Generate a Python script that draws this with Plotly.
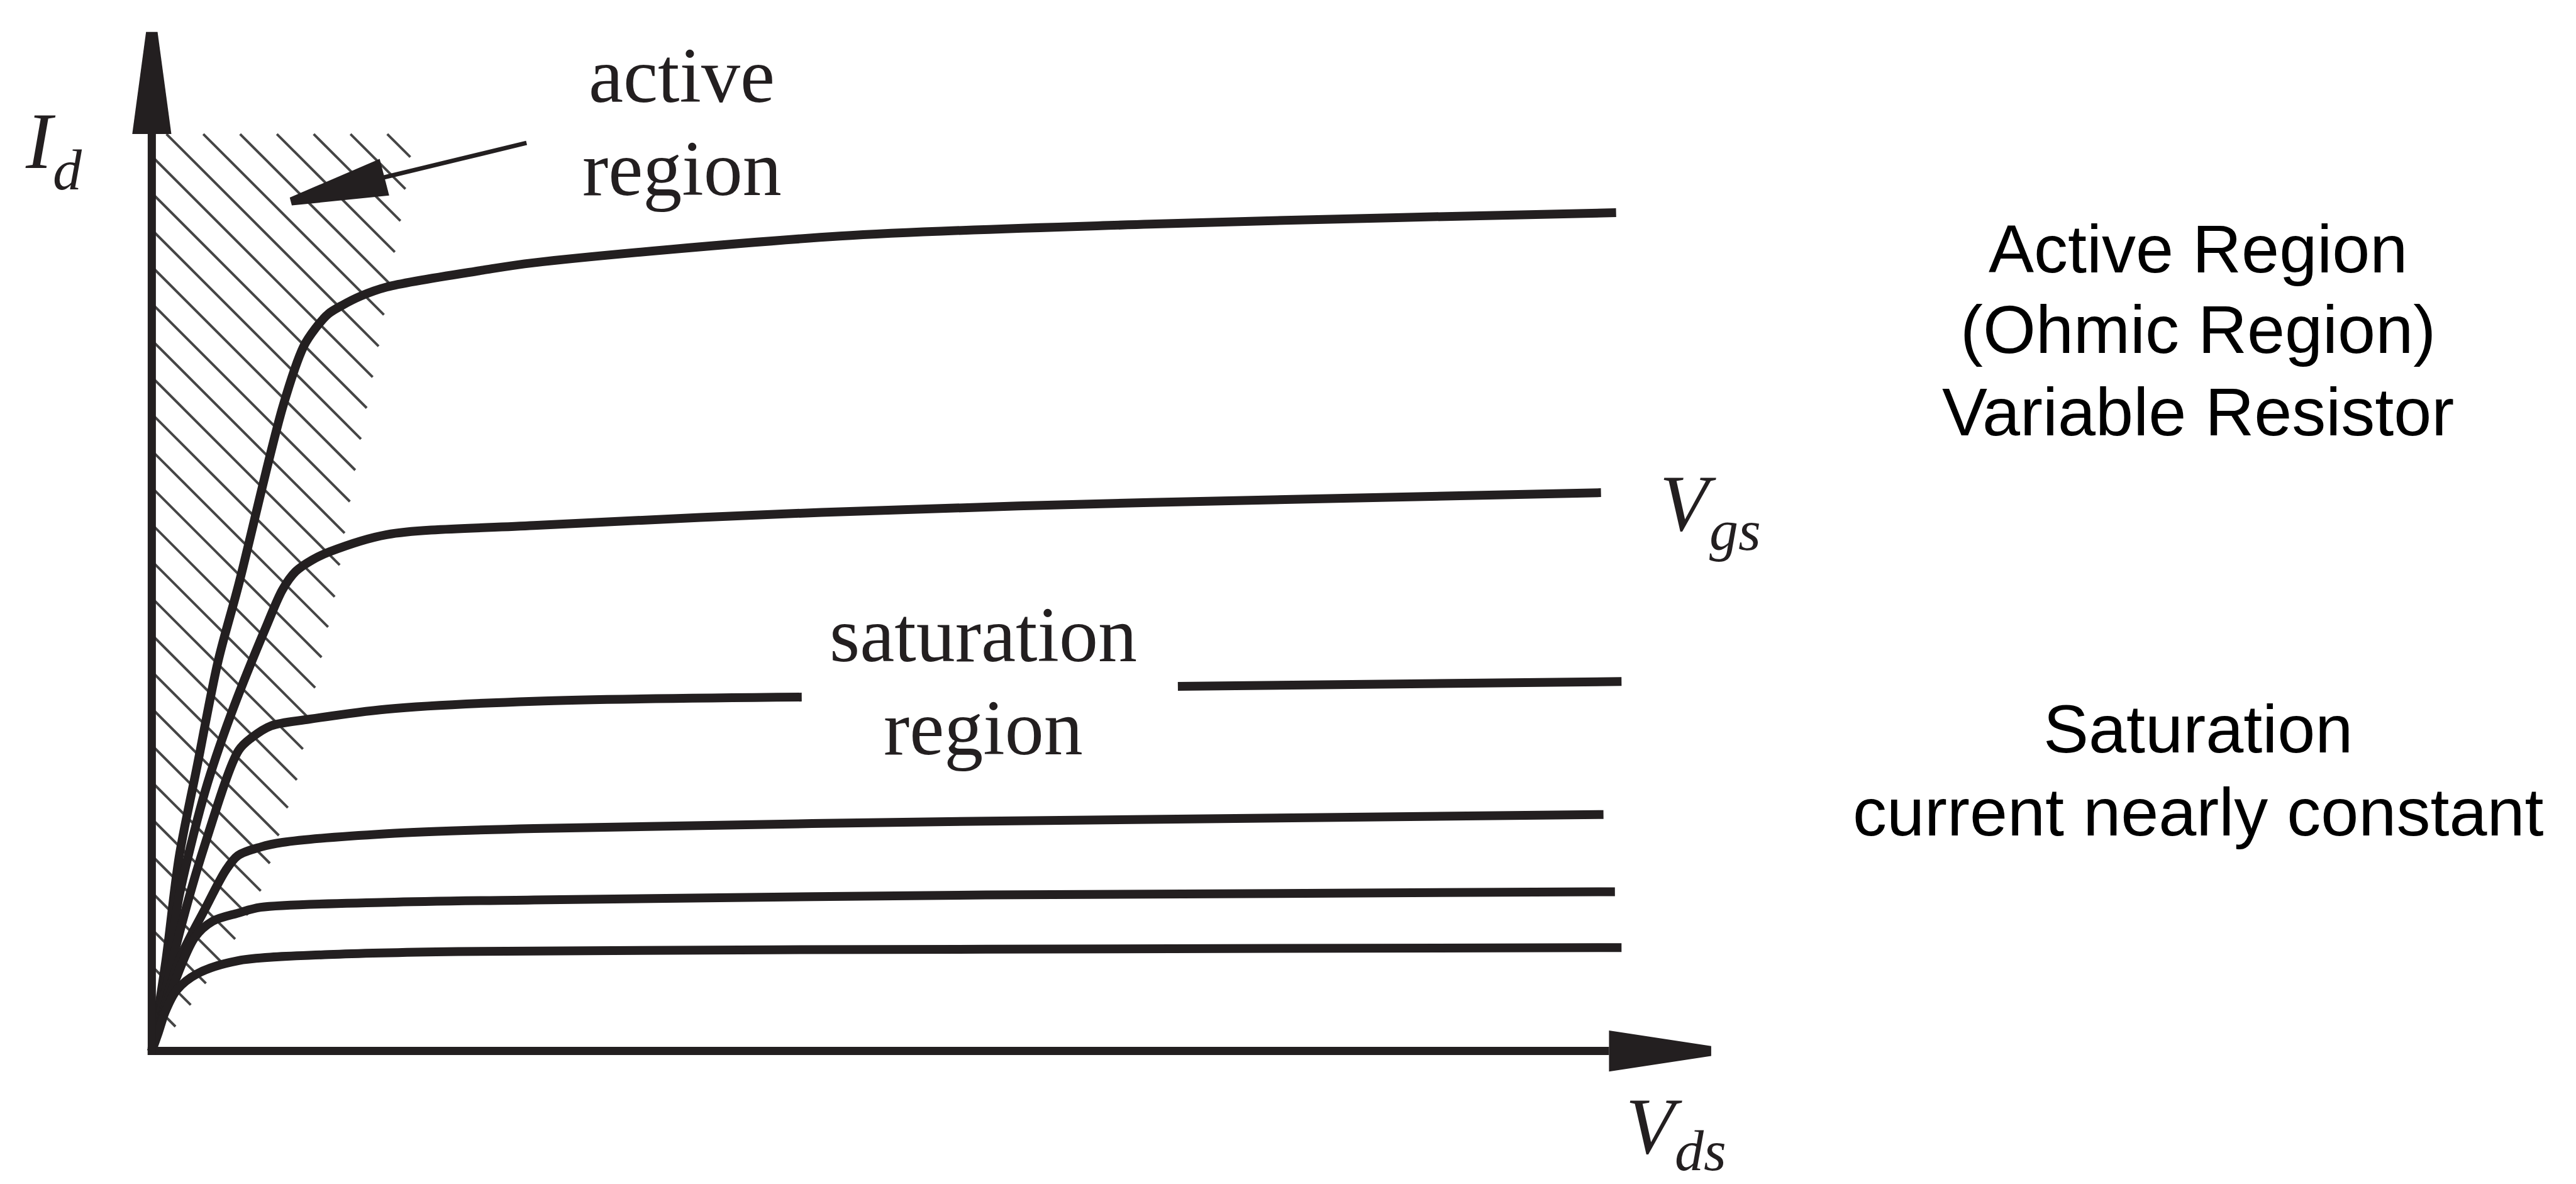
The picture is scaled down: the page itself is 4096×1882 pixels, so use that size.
import math
import plotly.graph_objects as go

# ---------------- data: drain current Id (mA) vs drain-source voltage Vds (V) ----------------
# one curve per gate-source voltage step (top = largest Vgs)
vds_1 = [0, 0.096, 0.186, 0.309, 0.451, 0.592, 0.894, 1.035, 1.115, 1.205, 1.300, 1.424, 1.601, 2.258, 2.605, 4.688, 6.804, 8.484, 9.981]
id_1 = [0, 1.077, 2.311, 3.397, 4.643, 5.563, 7.691, 8.404, 8.619, 8.795, 8.897, 9.005, 9.113, 9.314, 9.403, 9.720, 9.863, 9.941, 10.000]

vds_2 = [0, 0.133, 0.186, 0.363, 0.540, 0.787, 0.891, 0.981, 1.093, 1.212, 1.601, 2.605, 4.564, 6.804, 9.878]
id_2 = [0, 1.234, 1.841, 3.095, 4.016, 5.093, 5.504, 5.720, 5.857, 5.955, 6.159, 6.268, 6.425, 6.543, 6.660]

# curve 3 is interrupted by the "saturation region" label
vds_3 = [0, 0.186, 0.363, 0.592, 0.681, 0.813, 1.071, 1.601, 2.605, 4.430, None, 6.994, 8.484, 10.018]
id_3 = [0, 1.391, 2.468, 3.585, 3.738, 3.879, 3.957, 4.078, 4.172, 4.221, None, 4.349, 4.378, 4.407]

vds_4 = [0, 0.186, 0.363, 0.504, 0.587, 0.742, 0.891, 1.601, 2.605, 5.684, 9.895]
id_4 = [0, 1.077, 1.694, 2.155, 2.331, 2.433, 2.488, 2.592, 2.654, 2.742, 2.821]

vds_5 = [0, 0.120, 0.292, 0.415, 0.589, 0.742, 1.601, 2.605, 5.684, 9.973]
id_5 = [0, 0.650, 1.352, 1.548, 1.645, 1.714, 1.773, 1.802, 1.861, 1.900]

vds_6 = [0, 0.045, 0.092, 0.169, 0.309, 0.587, 1.205, 2.086, 5.684, 10.018]
id_6 = [0, 0.220, 0.470, 0.725, 0.921, 1.077, 1.150, 1.187, 1.214, 1.234]

curves_vds = [vds_1, vds_2, vds_3, vds_4, vds_5, vds_6]
curves_id = [id_1, id_2, id_3, id_4, id_5, id_6]

# boundary of the hatched (active / ohmic) region
ohmic_vds = [0, 1.787, 1.765, 1.698, 1.619, 1.548, 1.468, 1.389, 1.317, 1.250, 1.160, 1.071, 0.992, 0.869, 0.746, 0.567, 0.399, 0.163, 0]
ohmic_id = [10.938, 10.938, 10.695, 9.932, 9.168, 8.423, 7.698, 6.954, 6.210, 5.446, 4.721, 3.977, 3.252, 2.586, 1.920, 1.332, 0.881, 0.294, 0]

# ---------------- layout geometry ----------------
W, H = 4096, 1882
REF_W, REF_H = 1568.0, 721.0          # layout grid on which positions below are given
SX, SY = W / REF_W, H / REF_H
ORG_X, ORG_Y = 92.4, 640.0            # axis origin on the grid
PX_PER_V, PX_PER_MA = 89.3, 51.05     # grid px per unit

KX, KY = PX_PER_V * SX, PX_PER_MA * SY
OX, OY = ORG_X * SX, ORG_Y * SY
x_range = [-OX / KX, (W - OX) / KX]
y_range = [-(H - OY) / KY, OY / KY]

INK = '#231f20'


def gv(x):
    return (x - ORG_X) / PX_PER_V


def gi(y):
    return (ORG_Y - y) / PX_PER_MA


def to_px(v, i):
    return (OX + v * KX, OY - i * KY)


def to_data(X, Y):
    return ((X - OX) / KX, (OY - Y) / KY)


def path_from_grid(points):
    s = ''
    for k, (x, y) in enumerate(points):
        s += ('M' if k == 0 else 'L') + f'{gv(x):.5f},{gi(y):.5f} '
    return s + 'Z'


# ---------------- hatch lines (45 deg) clipped to the ohmic region ----------------
poly = [to_px(v, i) for v, i in zip(ohmic_vds, ohmic_id)]
spacing = 22.4 * SX
c_ref = 95.1 * SY - ORG_X * SX
cvals = [p[1] - p[0] for p in poly]
kmin = math.floor((min(cvals) - c_ref) / spacing) - 1
kmax = math.ceil((max(cvals) - c_ref) / spacing) + 1
hx, hy = [], []
n = len(poly)
for k in range(kmin, kmax + 1):
    c = c_ref + k * spacing
    xs = []
    for j in range(n):
        x1, y1 = poly[j]
        x2, y2 = poly[(j + 1) % n]
        f1 = y1 - x1 - c
        f2 = y2 - x2 - c
        if (f1 < 0) != (f2 < 0):
            t = f1 / (f1 - f2)
            xs.append(x1 + t * (x2 - x1))
    xs.sort()
    for a, b in zip(xs[0::2], xs[1::2]):
        v1, i1 = to_data(a, a + c)
        v2, i2 = to_data(b, b + c)
        hx += [v1, v2, None]
        hy += [i1, i2, None]

fig = go.Figure()
fig.add_trace(go.Scatter(x=hx, y=hy, mode='lines', line=dict(color='#454545', width=4),
                         hoverinfo='skip', showlegend=False))

for vx, iy in zip(curves_vds, curves_id):
    fig.add_trace(go.Scatter(x=vx, y=iy, mode='lines',
                             line=dict(color=INK, width=14, shape='spline', smoothing=0.9),
                             hoverinfo='skip', showlegend=False, connectgaps=False))

shapes = []
AX_W = 13
half_ax = 2.5
# x axis and y axis
shapes.append(dict(type='line', xref='x', yref='y', x0=gv(ORG_X - half_ax), y0=0, x1=gv(979.4), y1=0,
                   line=dict(color=INK, width=AX_W)))
shapes.append(dict(type='line', xref='x', yref='y', x0=0, y0=gi(ORG_Y + half_ax), x1=0, y1=gi(81.6),
                   line=dict(color=INK, width=AX_W)))
# arrowheads (trapezoids with blunt tips)
shapes.append(dict(type='path', xref='x', yref='y', fillcolor=INK, line=dict(width=0),
                   path=path_from_grid([(979.4, ORG_Y - 12.5), (1041.6, ORG_Y - 3.0),
                                        (1041.6, ORG_Y + 3.0), (979.4, ORG_Y + 12.5)])))
shapes.append(dict(type='path', xref='x', yref='y', fillcolor=INK, line=dict(width=0),
                   path=path_from_grid([(ORG_X - 11.9, 81.6), (ORG_X - 3.5, 19.4),
                                        (ORG_X + 3.5, 19.4), (ORG_X + 11.9, 81.6)])))
# pointer from "active region" label
P_END = (320.5, 87.0)
TIP = (177.0, 122.7)
BASE = (234.0, 107.9)
dx, dy = BASE[0] - TIP[0], BASE[1] - TIP[1]
L = math.hypot(dx, dy)
nx, ny = -dy / L, dx / L
shapes.append(dict(type='line', xref='x', yref='y', x0=gv(BASE[0] - 3 * dx / L), y0=gi(BASE[1] - 3 * dy / L),
                   x1=gv(P_END[0]), y1=gi(P_END[1]), line=dict(color=INK, width=7)))
shapes.append(dict(type='path', xref='x', yref='y', fillcolor=INK, line=dict(width=0),
                   path=path_from_grid([(TIP[0] + 2.5 * nx, TIP[1] + 2.5 * ny),
                                        (BASE[0] + 11.5 * nx, BASE[1] + 11.5 * ny),
                                        (BASE[0] - 11.5 * nx, BASE[1] - 11.5 * ny),
                                        (TIP[0] - 2.5 * nx, TIP[1] - 2.5 * ny)])))

SERIF = 'Liberation Serif'
SANS = 'Liberation Sans'


def ann(text, x, y, size, family, color=INK, xanchor='center', yanchor='middle', style='normal'):
    return dict(text=text, x=x / REF_W, y=1 - y / REF_H, xref='paper', yref='paper',
                showarrow=False, xanchor=xanchor, yanchor=yanchor, borderpad=0,
                font=dict(size=size, family=family, color=color, style=style))


# italic symbol labels: main letter + subscript placed right after the letter's advance
MAIN_FS, SUB_FS = 127, 92
main_em = MAIN_FS / SX            # em size on the layout grid
sub_em = SUB_FS / SX
MID_MAIN = 0.3375 * main_em       # baseline -> box middle offset (Liberation Serif)
MID_SUB = 0.3375 * sub_em
ADV_I, ADV_V = 0.333 * main_em, 0.611 * main_em


def symbol(main, sub, left, base_main, base_sub, adv):
    return [ann(main, left, base_main - MID_MAIN, MAIN_FS, SERIF, xanchor='left', style='italic'),
            ann(sub, left + adv + 0.5, base_sub - MID_SUB, SUB_FS, SERIF, xanchor='left', style='italic')]


annotations = [
    ann('active', 415, 46.2, 124, SERIF),
    ann('region', 415, 102.9, 124, SERIF),
    ann('saturation', 598.5, 386.7, 124, SERIF),
    ann('region', 598.5, 443.4, 124, SERIF),
    ann('Active Region', 1338, 151.4, 108, SANS, color='#000000'),
    ann('(Ohmic Region)', 1338, 200.7, 108, SANS, color='#000000'),
    ann('Variable Resistor', 1338, 250.9, 108, SANS, color='#000000'),
    ann('Saturation', 1338, 443.7, 108, SANS, color='#000000'),
    ann('current nearly constant', 1338, 494.5, 108, SANS, color='#000000'),
]
annotations += symbol('I', 'd', 15, 102.3, 115.5, ADV_I)
annotations += symbol('V', 'ds', 989, 702.0, 712.5, ADV_V)
annotations += symbol('V', 'gs', 1010, 323.0, 335.0, ADV_V)

fig.update_layout(
    width=W, height=H, autosize=False,
    margin=dict(l=0, r=0, t=0, b=0, pad=0),
    paper_bgcolor='white', plot_bgcolor='white',
    xaxis=dict(range=x_range, visible=False, fixedrange=True),
    yaxis=dict(range=y_range, visible=False, fixedrange=True),
    shapes=shapes, annotations=annotations, showlegend=False,
)

fig.write_html("out.html", config={'displayModeBar': False},
               post_script="document.body.style.margin='0';document.body.style.overflow='hidden';")
